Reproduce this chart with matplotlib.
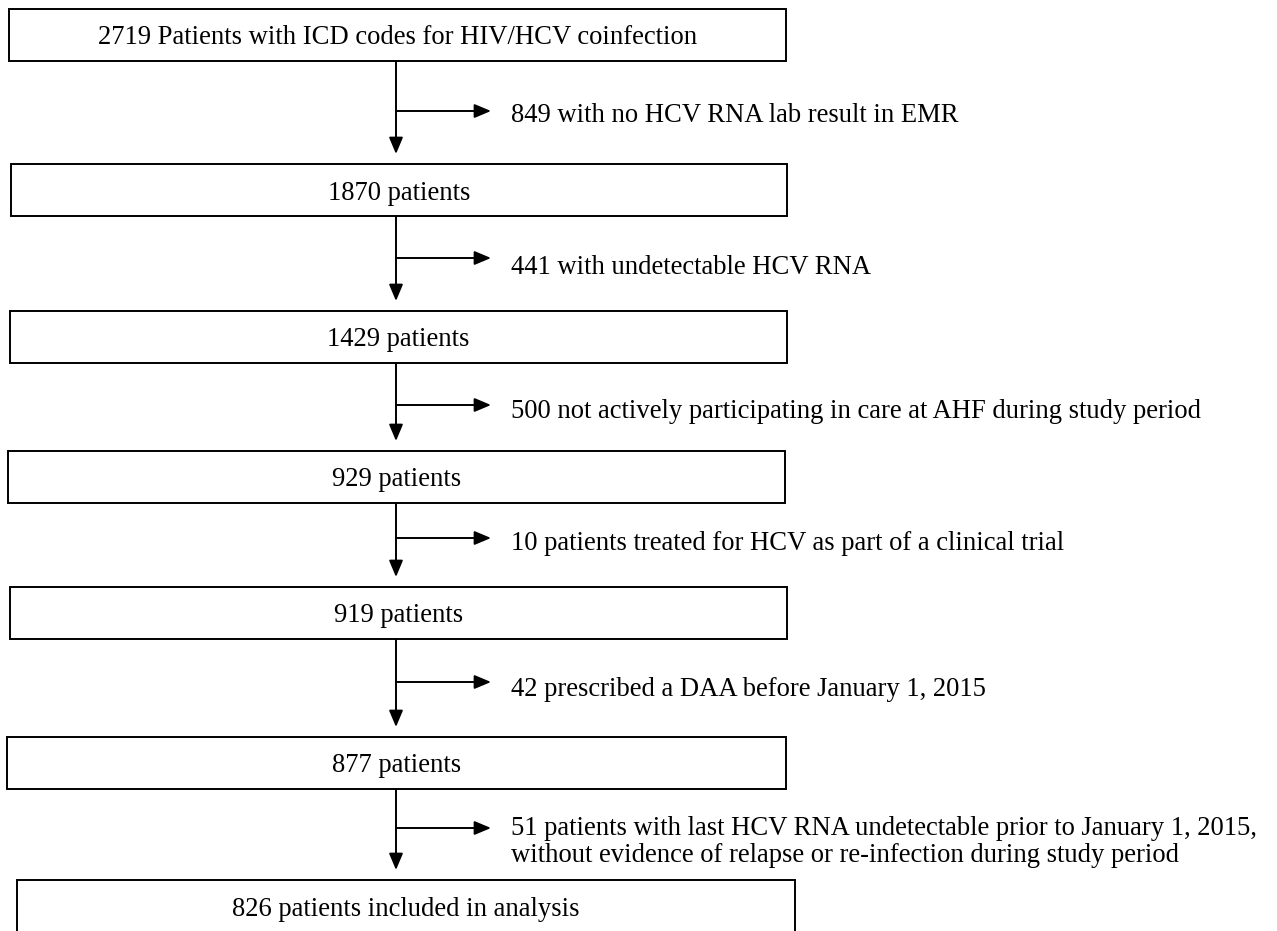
import matplotlib.pyplot as plt
from matplotlib.patches import Rectangle

# flowchart content
box_labels = [
    "2719 Patients with ICD codes for HIV/HCV coinfection",
    "1870 patients",
    "1429 patients",
    "929 patients",
    "919 patients",
    "877 patients",
    "826 patients included in analysis",
]
excluded_labels = [
    "849 with no HCV RNA lab result in EMR",
    "441 with undetectable HCV RNA",
    "500 not actively participating in care at AHF during study period",
    "10 patients treated for HCV as part of a clinical trial",
    "42 prescribed a DAA before January 1, 2015",
    "51 patients with last HCV RNA undetectable prior to January 1, 2015,\n"
    "without evidence of relapse or re-infection during study period",
]

# layout in pixels (top-left origin)
box_x = [9, 11, 10, 8, 10, 7, 17]
box_top = [9, 164, 311, 451, 587, 737, 880]
box_w = [777, 776, 777, 777, 777, 779, 778]
box_h = 52
stem_x = 396
branch_y = [111, 258, 405, 538, 682, 828]
text_y = [115, 268, 411, 543, 690, 842]

plt.rcParams['font.family'] = ['Liberation Serif', 'DejaVu Serif']
fig = plt.figure(figsize=(12.77, 9.31), dpi=100)
ax = fig.add_axes([0, 0, 1, 1])
ax.set_xlim(0, 1277)
ax.set_ylim(931, 0)
ax.axis('off')

fs = 19.2
lw = 1.4
head = '-|>,head_length=1.0,head_width=0.42'

for i, label in enumerate(box_labels):
    ax.add_patch(Rectangle((box_x[i], box_top[i]), box_w[i], box_h,
                           fill=False, ec='black', lw=lw))
    ax.text(box_x[i] + box_w[i] / 2, box_top[i] + box_h / 2 + 3, label,
            ha='center', va='center', fontsize=fs)

for i, label in enumerate(excluded_labels):
    y0 = box_top[i] + box_h
    y1 = box_top[i + 1] - 10
    ax.annotate("", xy=(stem_x, y1), xytext=(stem_x, y0),
                arrowprops=dict(arrowstyle=head, color='black', lw=lw,
                                shrinkA=0, shrinkB=0))
    ax.annotate("", xy=(491, branch_y[i]), xytext=(stem_x, branch_y[i]),
                arrowprops=dict(arrowstyle=head, color='black', lw=lw,
                                shrinkA=0, shrinkB=0))
    ax.text(511, text_y[i], label, ha='left', va='center', fontsize=fs,
            linespacing=1.15)

fig.savefig("out.png", dpi=100)
